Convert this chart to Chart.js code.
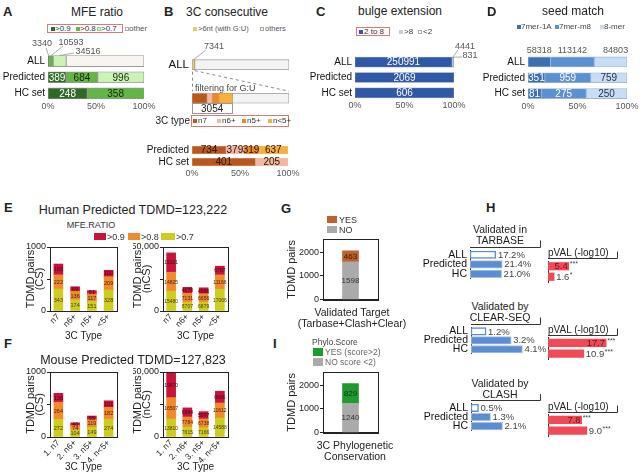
<!DOCTYPE html>
<html>
<head>
<meta charset="utf-8">
<title>TDMD figure</title>
<script src="https://cdn.jsdelivr.net/npm/chart.js@4.4.1/dist/chart.umd.min.js"></script>
<style>
html, body { margin:0; padding:0; background:#fff; }
#root { position:relative; width:642px; height:473px; overflow:hidden; font-family:"Liberation Sans", Arial, Helvetica, sans-serif; }
#root canvas { position:absolute; }
.t { position:absolute; white-space:nowrap; line-height:1; color:#222; }
.s { position:absolute; box-sizing:border-box; }
</style>
</head>
<body>
<div id="root"></div>
<script>
// ---------------- data ----------------
const rowCats = ['ALL', 'Predicted', 'HC set'];
const mfeLevels = ['>0.9', '>0.8', '>0.7', 'other'];
const mfeGt09 = [3340, 389, 248];
const mfeGt08 = [10593, 684, 358];
const mfeGt07 = [34516, 996, 0];
const mfeOther = [207814, 0, 0];

const ccLegend = ['>6nt (with G:U)', 'others'];
const ccTopCats = ['ALL', ''];
const ccAllGU = [7341, 0];
const guN7 = [0, 1145];
const guN6 = [0, 382];
const guN5 = [0, 509];
const guN5less = [0, 1018];
const ccOthers = [248922, 4287];
const typeLegend = ['n7', 'n6+', 'n5+', 'n<5+'];
const ccSetCats = ['Predicted', 'HC set'];
const ccN7 = [734, 401];
const ccN6 = [379, 205];
const ccN5 = [319, 0];
const ccN5less = [637, 0];

const bulgeLegend = ['2 to 8', '>8', '<2'];
const bulge2to8 = [250991, 2069, 606];
const bulgeGt8 = [4441, 0, 0];
const bulgeLt2 = [831, 0, 0];

const seedLegend = ['7mer-1A', '7mer-m8', '8-mer'];
const seed7mer1A = [58318, 351, 81];
const seed7merM8 = [113142, 959, 275];
const seed8mer = [84803, 759, 250];

const ratioLegend = ['>0.9', '>0.8', '>0.7'];
const humanTypes = ['n7', 'n6+', 'n5+', '<5+'];
const humanCS07 = [343, 174, 151, 328];
const humanCS08 = [222, 136, 117, 209];
const humanCS09 = [169, 69, 51, 100];
const humanNCS07 = [15480, 6707, 6879, 17066];
const humanNCS08 = [14825, 7131, 6656, 11166];
const humanNCS09 = [15101, 4678, 4586, 6787];

const mouseTypes = ['1. n7', '2. n6+', '3. n5+', '4. n<5+'];
const mouseCS07 = [272, 104, 149, 274];
const mouseCS08 = [264, 74, 119, 182];
const mouseCS09 = [136, 40, 55, 101];
const mouseNCS07 = [13810, 7615, 7166, 14588];
const mouseNCS08 = [16507, 7784, 6738, 11612];
const mouseNCS09 = [19670, 6984, 5597, 8986];

const csTicks = [0, 500, 1000];
const csTickLabels = ['0', '', '1000'];
const ncsTicks = [0, 25000, 50000];
const ncsTickLabels = ['0', '', '50,000'];
const pairTicks = [0, 1000, 2000];
const pairTickLabels = ['0', '1000', '2000'];

const validatedYes = [463];
const validatedNo = [1598];
const phyloYes = [829];
const phyloNo = [1240];

const hCats = ['ALL', 'Predicted', 'HC'];
const pCats = ['Predicted', 'HC'];
const tarbasePct = [17.2, 21.4, 21.0];
const clearseqPct = [1.2, 3.2, 4.1];
const clashPct = [0.5, 1.3, 2.1];
const tarbaseP = [5.4, 1.6];
const tarbaseStars = ['***', '*'];
const clearseqP = [17.7, 10.9];
const clearseqStars = ['***', '***'];
const clashP = [7.8, 9.0];
const clashStars = ['***', '***'];

// ---------------- helpers ----------------
const FONT = '"Liberation Sans", Arial, Helvetica, sans-serif';
Chart.defaults.font.family = FONT;
Chart.defaults.color = '#222';
const root = document.getElementById('root');

function mk(box) {
  const c = document.createElement('canvas');
  c.width = box.w; c.height = box.h;
  c.style.left = box.x + 'px'; c.style.top = box.y + 'px';
  c.style.width = box.w + 'px'; c.style.height = box.h + 'px';
  root.appendChild(c);
  return c;
}
function T(text, x, y, o = {}) {
  const d = document.createElement('div');
  d.className = 't'; d.textContent = text;
  d.style.fontSize = (o.s || 10) + 'px';
  if (o.b) d.style.fontWeight = 'bold';
  if (o.c) d.style.color = o.c;
  d.style.left = x + 'px'; d.style.top = y + 'px';
  const tx = o.a === 'c' ? '-50%' : (o.a === 'r' ? '-100%' : '0');
  d.style.transform = 'translate(' + tx + ',-50%)';
  root.appendChild(d);
}
function S(x, y, w, h, bg, bd) {
  const d = document.createElement('div');
  d.className = 's';
  d.style.left = x + 'px'; d.style.top = y + 'px';
  d.style.width = w + 'px'; d.style.height = h + 'px';
  d.style.background = bg;
  if (bd) d.style.border = '1px solid ' + bd;
  root.appendChild(d);
}
function pctRows(sets) {
  const n = sets[0].length, tot = [];
  for (let i = 0; i < n; i++) tot.push(sets.reduce((s, a) => s + (a[i] || 0), 0));
  return sets.map(a => a.map((v, i) => v ? v / tot[i] * 100 : null));
}

// ---------------- plugins ----------------
const segText = {
  id: 'segText',
  afterDatasetsDraw(chart, args, o) {
    const ctx = chart.ctx;
    ctx.save();
    ctx.textAlign = 'center'; ctx.textBaseline = 'middle';
    ctx.font = (o.size || 10) + 'px ' + FONT;
    const horiz = chart.options.indexAxis === 'y';
    chart.data.datasets.forEach((ds, di) => {
      if (!ds.segText) return;
      chart.getDatasetMeta(di).data.forEach((el, i) => {
        const t = ds.segText[i];
        if (!t) return;
        const cx = horiz ? (el.x + el.base) / 2 : el.x;
        const cy = horiz ? el.y : (el.y + el.base) / 2;
        ctx.fillStyle = ds.segColor || '#222';
        ctx.fillText(t, cx, cy + 0.5);
      });
    });
    ctx.restore();
  }
};
const frame = {
  id: 'frame',
  afterDraw(chart, args, o) {
    if (!o.on) return;
    const a = chart.chartArea, ctx = chart.ctx;
    ctx.save(); ctx.strokeStyle = '#222'; ctx.lineWidth = 1;
    ctx.strokeRect(Math.round(a.left) + 0.5, Math.round(a.top) + 0.5, Math.round(a.right - a.left), Math.round(a.bottom - a.top));
    ctx.restore();
  }
};
const bracket = {
  id: 'bracket',
  afterDraw(chart, args, o) {
    if (!o.on) return;
    const a = chart.chartArea, ctx = chart.ctx;
    const y = Math.round(a.top - 3) + 0.5, r = Math.round(a.right) + 0.5;
    ctx.save(); ctx.strokeStyle = '#333'; ctx.lineWidth = 1;
    ctx.beginPath(); ctx.moveTo(Math.round(a.left), y); ctx.lineTo(r, y); ctx.lineTo(r, y - 7); ctx.stroke();
    ctx.restore();
  }
};
const endText = {
  id: 'endText',
  afterDatasetsDraw(chart, args, o) {
    if (!o.texts) return;
    const ctx = chart.ctx;
    ctx.save(); ctx.textBaseline = 'middle';
    chart.getDatasetMeta(0).data.forEach((el, i) => {
      const t = o.texts[i], st = o.stars ? o.stars[i] : '';
      ctx.font = (o.size || 9.5) + 'px ' + FONT;
      let x;
      if (o.inside && o.inside[i]) {
        ctx.textAlign = 'right'; ctx.fillStyle = o.insideColor || '#7a0f14';
        ctx.fillText(t, el.x - 1, el.y + 0.5); x = el.x + 0.5;
      } else {
        ctx.textAlign = 'left'; ctx.fillStyle = o.color || '#444';
        ctx.fillText(t, el.x + 2, el.y + 0.5); x = el.x + 2 + ctx.measureText(t).width;
      }
      if (st) {
        ctx.textAlign = 'left'; ctx.font = '7px ' + FONT; ctx.fillStyle = o.color || '#444';
        ctx.fillText(st, x + 0.5, el.y - 2);
      }
    });
    ctx.restore();
  }
};
Chart.register(segText, frame, bracket, endText);

function rowAnnot(box, items) {
  return {
    id: 'rowAnnot',
    afterDatasetsDraw(chart) {
      const ctx = chart.ctx;
      ctx.save();
      ctx.font = '9px ' + FONT; ctx.fillStyle = '#555'; ctx.strokeStyle = '#888'; ctx.lineWidth = 0.7;
      ctx.textAlign = 'center'; ctx.textBaseline = 'middle';
      items.forEach(it => {
        const ds = chart.data.datasets[it.ds];
        const el = chart.getDatasetMeta(it.ds).data[it.row];
        if (!el) return;
        const cx = (el.x + el.base) / 2, top = el.y - el.height / 2;
        const lx = it.lx != null ? it.lx - box.x : cx + (it.dx || 0);
        if (it.ax != null) {
          ctx.beginPath(); ctx.moveTo(cx, top); ctx.lineTo(it.ax - box.x, it.ay - box.y); ctx.stroke();
        }
        ctx.fillText(String(ds.raw[it.row]), lx, it.ly - box.y);
      });
      ctx.restore();
    }
  };
}

const NOGRID = { display: false, drawTicks: false, tickLength: 0 };

function hbar100(box, plot, labels, sets, colors, textColors, o) {
  const pct = pctRows(sets);
  const datasets = sets.map((raw, k) => ({
    data: pct[k], raw,
    backgroundColor: colors[k], borderColor: (o.borders || [])[k] || '#999', borderWidth: o.bw == null ? 0.8 : o.bw,
    borderSkipped: false, barThickness: o.bar,
    segText: raw.map((v, i) => (v && o.showText && o.showText(k, i)) ? String(v) : ''),
    segColor: textColors[k]
  }));
  const showX = o.showX !== false;
  return new Chart(mk(box), {
    type: 'bar',
    data: { labels, datasets },
    plugins: o.plugins || [],
    options: {
      indexAxis: 'y', responsive: false, animation: false, devicePixelRatio: 1,
      layout: { padding: { left: 0, top: plot.t - box.y, right: box.x + box.w - plot.r, bottom: showX ? 0 : box.y + box.h - plot.b } },
      plugins: { legend: { display: false }, tooltip: { enabled: false }, segText: { size: o.textSize || 10 } },
      scales: {
        x: { display: showX, stacked: true, min: 0, max: 100,
             grid: NOGRID, border: { display: false },
             ticks: { stepSize: 50, callback: v => v + '%', padding: 0, font: { size: 9 }, color: '#555', maxRotation: 0, autoSkip: false },
             afterFit: s => { s.height = box.y + box.h - plot.b; } },
        y: { stacked: true, grid: NOGRID, border: { display: false },
             ticks: { padding: 3, font: { size: o.catSize || 10 }, color: '#111', autoSkip: false },
             afterFit: s => { s.width = plot.l - box.x; } }
      }
    }
  });
}

function vstack(box, plot, labels, sets, colors, textColors, o) {
  const datasets = sets.map((raw, k) => ({
    data: raw, backgroundColor: colors[k], borderWidth: 0, barThickness: o.bar,
    segText: raw.map(v => String(v)), segColor: textColors[k]
  }));
  return new Chart(mk(box), {
    type: 'bar',
    data: { labels, datasets },
    options: {
      responsive: false, animation: false, devicePixelRatio: 1,
      layout: { padding: { left: 0, top: plot.t - box.y, right: box.x + box.w - plot.r, bottom: 0 } },
      plugins: { legend: { display: false }, tooltip: { enabled: false }, segText: { size: o.textSize || 6 }, frame: { on: true } },
      scales: {
        x: { stacked: true, grid: NOGRID, border: { display: true, color: '#222' },
             ticks: { display: o.xTicks !== false, minRotation: 45, maxRotation: 45, autoSkip: false, padding: 1, font: { size: 8.5 }, color: '#222' },
             title: { display: !!o.xTitle, text: o.xTitle || '', padding: 0, font: { size: 10, lineHeight: 1.05 }, color: '#222' },
             afterFit: s => { s.height = box.y + box.h - plot.b; } },
        y: { stacked: true, min: 0, max: o.max,
             afterBuildTicks: s => { s.ticks = o.ticks.map(v => ({ value: v })); },
             grid: { drawOnChartArea: false, tickLength: 3, color: '#222' },
             border: { display: true, color: '#222' },
             ticks: { padding: 1, font: { size: 9 }, color: '#222', autoSkip: false,
                      callback: v => { const i = o.ticks.indexOf(v); return i >= 0 ? o.tickLabels[i] : ''; } },
             title: { display: true, text: o.yTitle, padding: 0, font: { size: 11, lineHeight: 0.85 }, color: '#222' },
             afterFit: s => { s.width = plot.l - box.x; } }
      }
    }
  });
}

function hbarH(box, plot, labels, data, o) {
  return new Chart(mk(box), {
    type: 'bar',
    data: { labels, datasets: [{ data, backgroundColor: o.bg, borderColor: o.bc, borderWidth: o.bw, borderSkipped: false, barThickness: 7.5 }] },
    options: {
      indexAxis: 'y', responsive: false, animation: false, devicePixelRatio: 1,
      layout: { padding: { left: 0, top: plot.t - box.y, right: box.x + box.w - plot.r, bottom: box.y + box.h - plot.b } },
      plugins: { legend: { display: false }, tooltip: { enabled: false }, bracket: { on: true }, endText: o.end },
      scales: {
        x: { display: false, min: 0, max: o.max },
        y: { grid: NOGRID, border: { display: true, color: '#333', width: 1 },
             ticks: { display: !!o.cats, padding: 3, font: { size: 10.5 }, color: '#111', autoSkip: false },
             afterFit: s => { s.width = plot.l - box.x; } }
      }
    }
  });
}

// ---------------- Panel A ----------------
const colA = ['#2f6b26', '#64b447', '#ccf2b4', '#f8f4ef'];
const boxA = { x: 0, y: 36, w: 160, h: 86 };
hbar100(boxA, { l: 48, r: 144, t: 53, b: 101.5 }, rowCats,
  [mfeGt09, mfeGt08, mfeGt07, mfeOther], colA, ['#fff', '#15280e', '#15280e', '#333'],
  { bar: 11, showText: (k, i) => i > 0 && k < 3,
    plugins: [rowAnnot(boxA, [
      { ds: 0, row: 0, lx: 42, ly: 44, ax: 46, ay: 48 },
      { ds: 1, row: 0, lx: 71, ly: 43, ax: 63, ay: 46 },
      { ds: 2, row: 0, lx: 88, ly: 52, ax: 74, ay: 53 }])] });

// ---------------- Panel B ----------------
const colGU = '#e3cf6a', colOthers = '#f3f3f3';
const colTypes = ['#b8581c', '#f2b8a2', '#e8892a', '#f6b03c'];
const boxB1 = { x: 160, y: 38, w: 140, h: 87 };
const bTop = {
  id: 'bTop',
  afterDatasetsDraw(chart) {
    const ctx = chart.ctx, xs = chart.scales.x;
    const gu = chart.getDatasetMeta(0).data[0];
    const other1 = chart.getDatasetMeta(5).data[1];
    const allBottom = gu.y + gu.height / 2;
    const expTop = other1.y - other1.height / 2, expBottom = other1.y + other1.height / 2;
    const x0 = xs.getPixelForValue(0), x100 = xs.getPixelForValue(100);
    ctx.save();
    ctx.strokeStyle = '#888'; ctx.lineWidth = 1; ctx.setLineDash([3, 3]);
    ctx.beginPath(); ctx.moveTo(x0 + 0.5, allBottom + 2); ctx.lineTo(x0 + 0.5, expTop - 2);
    ctx.moveTo(gu.x, allBottom + 1); ctx.lineTo(x100, expTop - 2); ctx.stroke();
    ctx.setLineDash([]);
    const guSum = guN7[1] + guN6[1] + guN5[1] + guN5less[1];
    const tot = guSum + ccOthers[1];
    const x1 = xs.getPixelForValue(guSum / tot * 100);
    ctx.strokeStyle = '#999';
    ctx.strokeRect(Math.round(x0) + 0.5, Math.round(expBottom) + 0.5, Math.round(x1 - x0), 10);
    ctx.fillStyle = '#222'; ctx.font = '10px ' + FONT; ctx.textAlign = 'center'; ctx.textBaseline = 'middle';
    ctx.fillText(String(guSum), (x0 + x1) / 2, expBottom + 6);
    ctx.restore();
  }
};
hbar100(boxB1, { l: 192, r: 289, t: 42, b: 120 }, ccTopCats,
  [ccAllGU, guN7, guN6, guN5, guN5less, ccOthers],
  [colGU].concat(colTypes, [colOthers]), ['#222', '#222', '#222', '#222', '#222', '#222'],
  { bar: 10, showX: false, catSize: 11.5, borders: ['#999', '#c9a080', '#e0b0a0', '#d89050', '#e0a040', '#999'],
    showText: () => false,
    plugins: [bTop, rowAnnot(boxB1, [{ ds: 0, row: 0, lx: 214, ly: 47, ax: 206, ay: 50 }])] });
hbar100({ x: 140, y: 135, w: 160, h: 52 }, { l: 192, r: 288, t: 138, b: 168 }, ccSetCats,
  [ccN7, ccN6, ccN5, ccN5less], colTypes, ['#2a1205', '#2a1205', '#2a1205', '#2a1205'],
  { bar: 8, showText: () => true, borders: ['#d0a080', '#e8c8b8', '#e0a060', '#f0c070'] });

// ---------------- Panel C ----------------
const boxC = { x: 300, y: 40, w: 180, h: 80 };
hbar100(boxC, { l: 355, r: 454, t: 54.5, b: 100.5 }, rowCats,
  [bulge2to8, bulgeGt8, bulgeLt2], ['#2f58a6', '#c2d0e6', '#fbfbff'], ['#fff', '#222', '#222'],
  { bar: 10, showText: k => k === 0, borders: ['#6d87b8', '#8aa0c8', '#8aa0c8'],
    plugins: [rowAnnot(boxC, [
      { ds: 1, row: 0, lx: 465, ly: 47, ax: 458, ay: 50 },
      { ds: 2, row: 0, lx: 470, ly: 56, ax: 462, ay: 57 }])] });

// ---------------- Panel D ----------------
const boxD = { x: 476, y: 40, w: 166, h: 82 };
hbar100(boxD, { l: 528, r: 627, t: 54, b: 101.5 }, rowCats,
  [seed7mer1A, seed7merM8, seed8mer], ['#3d70b0', '#5b91d3', '#c8dcf3'], ['#fff', '#fff', '#1d2d4a'],
  { bar: 10, showText: (k, i) => i > 0, borders: ['#9db5d8', '#9db5d8', '#9db5d8'],
    plugins: [rowAnnot(boxD, [
      { ds: 0, row: 0, ly: 51 }, { ds: 1, row: 0, ly: 51 }, { ds: 2, row: 0, ly: 51, dx: 5 }])] });

// ---------------- Panels E / F ----------------
const colRatio = ['#cdcd20', '#f08a2a', '#c8143c'];
const txtRatio = ['#4a3a05', '#4a2205', '#4a0510'];
vstack({ x: 26, y: 240, w: 99, h: 101 }, { l: 50, r: 117, t: 247, b: 311 }, humanTypes,
  [humanCS07, humanCS08, humanCS09], colRatio, txtRatio,
  { bar: 9, max: 1000, ticks: csTicks, tickLabels: csTickLabels, yTitle: ['TDMD pairs', '(CS)'], xTitle: '3C Type', textSize: 5.5 });
vstack({ x: 133, y: 240, w: 103, h: 101 }, { l: 163, r: 228, t: 247, b: 311 }, humanTypes,
  [humanNCS07, humanNCS08, humanNCS09], colRatio, txtRatio,
  { bar: 9, max: 50000, ticks: ncsTicks, tickLabels: ncsTickLabels, yTitle: ['TDMD pairs', '(nCS)'], xTitle: '3C Type', textSize: 5 });
vstack({ x: 26, y: 365, w: 99, h: 107 }, { l: 50, r: 117, t: 372, b: 437 }, mouseTypes,
  [mouseCS07, mouseCS08, mouseCS09], colRatio, txtRatio,
  { bar: 9, max: 1000, ticks: csTicks, tickLabels: csTickLabels, yTitle: ['TDMD pairs', '(CS)'], xTitle: '3C Type', textSize: 5.5 });
vstack({ x: 133, y: 365, w: 103, h: 107 }, { l: 163, r: 228, t: 372, b: 437 }, mouseTypes,
  [mouseNCS07, mouseNCS08, mouseNCS09], colRatio, txtRatio,
  { bar: 9, max: 50000, ticks: ncsTicks, tickLabels: ncsTickLabels, yTitle: ['TDMD pairs', '(nCS)'], xTitle: '3C Type', textSize: 5 });

// ---------------- Panels G / I ----------------
vstack({ x: 287, y: 232, w: 100, h: 74 }, { l: 323, r: 378, t: 239, b: 303 }, [''],
  [validatedNo, validatedYes], ['#aaaaaa', '#c0602a'], ['#333', '#3a1505'],
  { bar: 16, max: 2560, ticks: pairTicks, tickLabels: pairTickLabels, yTitle: 'TDMD pairs', xTicks: false, textSize: 8 });
vstack({ x: 287, y: 365, w: 100, h: 74 }, { l: 323, r: 378, t: 372, b: 436 }, [''],
  [phyloNo, phyloYes], ['#aaaaaa', '#1f9a2f'], ['#333', '#0c3a10'],
  { bar: 16, max: 2560, ticks: pairTicks, tickLabels: pairTickLabels, yTitle: 'TDMD pairs', xTicks: false, textSize: 8 });

// ---------------- Panel H ----------------
const blue = '#5b8dd0', blueEdge = '#a7c2ea', red = '#f14a56';
const leftStyle = { bg: ['#ffffff', blue, blue], bc: [blue, blueEdge, blueEdge], bw: [1.5, 1, 1], cats: true };
const pct = a => a.map(v => v.toFixed(1) + '%');
const pv = a => a.map(v => v.toFixed(1));
hbarH({ x: 410, y: 240, w: 140, h: 48 }, { l: 470, r: 540, t: 250, b: 282 }, hCats, tarbasePct,
  Object.assign({ max: 46.5, end: { texts: pct(tarbasePct) } }, leftStyle));
hbarH({ x: 410, y: 317, w: 140, h: 46 }, { l: 471, r: 540, t: 327, b: 359 }, hCats, clearseqPct,
  Object.assign({ max: 5.5, end: { texts: pct(clearseqPct) } }, leftStyle));
hbarH({ x: 410, y: 394, w: 140, h: 46 }, { l: 471, r: 540, t: 403, b: 436 }, hCats, clashPct,
  Object.assign({ max: 4.6, end: { texts: pct(clashPct) } }, leftStyle));
hbarH({ x: 545, y: 250, w: 95, h: 36 }, { l: 548, r: 617, t: 261, b: 282 }, pCats, tarbaseP,
  { bg: red, bc: red, bw: 0, max: 18, end: { texts: pv(tarbaseP), stars: tarbaseStars, inside: [true, false] } });
hbarH({ x: 545, y: 327, w: 95, h: 36 }, { l: 548, r: 617, t: 337.5, b: 359 }, pCats, clearseqP,
  { bg: red, bc: red, bw: 0, max: 21, end: { texts: pv(clearseqP), stars: clearseqStars, inside: [true, false] } });
hbarH({ x: 545, y: 404, w: 95, h: 36 }, { l: 548, r: 617, t: 414.5, b: 436 }, pCats, clashP,
  { bg: red, bc: red, bw: 0, max: 16, end: { texts: pv(clashP), stars: clashStars, inside: [true, false] } });

// ---------------- text, legends ----------------
[['A', 3, 11], ['B', 164, 11], ['C', 316, 11], ['D', 487, 11], ['E', 4, 207], ['F', 4, 343],
 ['G', 281, 208], ['H', 486, 207], ['I', 273, 343]].forEach(p => T(p[0], p[1], p[2], { s: 13, b: 1 }));
T('MFE ratio', 97, 12, { s: 12, a: 'c' });
T('3C consecutive', 227, 12, { s: 12, a: 'c' });
T('bulge extension', 400, 11, { s: 12, a: 'c' });
T('seed match', 573, 11, { s: 12, a: 'c' });

// A legend
S(47, 24, 76, 9, 'transparent', '#d97a7a');
[[51, colA[0]], [76, colA[1]], [97, colA[2]]].forEach((p, k) => { S(p[0], 26.5, 4, 4, p[1], k === 2 ? '#9c9' : null); T(mfeLevels[k], p[0] + 4, 28.5, { s: 8, c: '#333' }); });
S(125, 26.5, 4, 4, '#fff', '#aaa'); T(mfeLevels[3], 129, 28.5, { s: 8, c: '#555' });

// B legend
S(193, 27, 4, 4, colGU); T(ccLegend[0], 198, 29, { s: 7.5, c: '#555' });
S(260, 27, 4, 4, colOthers, '#aaa'); T(ccLegend[1], 265, 29, { s: 7.5, c: '#555' });
T('filtering for G:U', 195, 88, { s: 9, c: '#444' });
T('3C type', 190, 121, { s: 10, a: 'r' });
S(191, 115, 98, 12, 'transparent', '#d97a7a');
[193, 217, 242, 268].forEach((x, k) => { S(x, 119, 4, 4, colTypes[k]); T(typeLegend[k], x + 5, 121, { s: 8, c: '#333' }); });

// C legend
S(356, 27, 34, 9, 'transparent', '#d97a7a');
S(359, 29.5, 4, 4, '#2f58a6'); T(bulgeLegend[0], 364, 31.5, { s: 8, c: '#333' });
S(399, 29.5, 4, 4, '#c2d0e6'); T(bulgeLegend[1], 404, 31.5, { s: 8, c: '#333' });
S(418, 29.5, 4, 4, '#fff', '#aaa'); T(bulgeLegend[2], 423, 31.5, { s: 8, c: '#333' });

// D legend
[[517, '#3d70b0'], [555, '#5b91d3'], [600, '#c8dcf3']].forEach((p, k) => { S(p[0], 25, 4, 4, p[1]); T(seedLegend[k], p[0] + 4, 27, { s: 8, c: '#444' }); });

// E / F
T('Human Predicted TDMD=123,222', 133, 210, { s: 12.5, a: 'c' });
T('MFE.RATIO', 91, 225, { s: 9, a: 'c', c: '#333' });
[[94, 12, colRatio[2]], [128, 12, colRatio[1]], [161, 14, colRatio[0]]].forEach((p, k) => { S(p[0], 233, p[1], 7, p[2]); T(ratioLegend[k], p[0] + p[1] + 1, 236.5, { s: 9, c: '#333' }); });
T('Mouse Predicted TDMD=127,823', 133, 360, { s: 12.5, a: 'c' });

// G / I legends and axis titles
S(327, 216, 10, 7, '#c0602a'); T('YES', 339, 219.5, { s: 9, c: '#333' });
S(327, 226, 10, 7, '#aaaaaa'); T('NO', 339, 229.5, { s: 9, c: '#333' });
T('Validated Target', 352, 312, { s: 10.5, a: 'c' });
T('(Tarbase+Clash+Clear)', 352, 323, { s: 10.5, a: 'c' });
T('Phylo.Score', 312, 342, { s: 8.5, c: '#444' });
S(313, 348, 10, 8, '#1f9a2f'); T('YES (score>2)', 325, 352, { s: 8.5, c: '#666' });
S(313, 358, 10, 8, '#aaaaaa'); T('NO score <2)', 325, 362, { s: 8.5, c: '#666' });
T('3C Phylogenetic', 355, 445, { s: 10.5, a: 'c' });
T('Conservation', 355, 455.5, { s: 10.5, a: 'c' });

// H titles
T('Validated in', 500, 229, { s: 10.5, a: 'c' }); T('TARBASE', 500, 239.5, { s: 10.5, a: 'c' });
T('Validated by', 500, 306, { s: 10.5, a: 'c' }); T('CLEAR-SEQ', 500, 316.5, { s: 10.5, a: 'c' });
T('Validated by', 500, 383, { s: 10.5, a: 'c' }); T('CLASH', 500, 393.5, { s: 10.5, a: 'c' });
T('pVAL (-log10)', 548, 253, { s: 10 });
T('pVAL (-log10)', 548, 330, { s: 10 });
T('pVAL (-log10)', 548, 406.5, { s: 10 });
</script>
</body>
</html>
